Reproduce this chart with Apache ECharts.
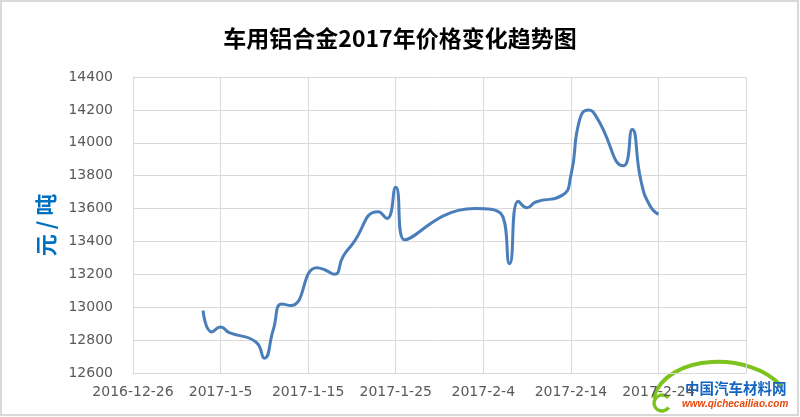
<!DOCTYPE html>
<html>
<head>
<meta charset="utf-8">
<script src="https://cdn.jsdelivr.net/npm/echarts@6/dist/echarts.min.js"></script>
<style>html,body{margin:0;padding:0;background:#fff}#c{width:800px;height:417px}</style>
</head>
<body>
<div id="c"></div>
<script>
var titleText = '车用铝合金2017年价格变化趋势图';
var yName = '元 / 吨';
var axisStart = '2016-12-26';
var axisEnd = '2017-03-06';
var dates = ['2017-01-03','2017-01-04','2017-01-05','2017-01-06','2017-01-09','2017-01-10','2017-01-11','2017-01-12','2017-01-13','2017-01-16','2017-01-17','2017-01-18','2017-01-19','2017-01-20','2017-01-23','2017-01-24','2017-01-25','2017-01-26','2017-02-03','2017-02-06','2017-02-07','2017-02-08','2017-02-09','2017-02-10','2017-02-13','2017-02-14','2017-02-15','2017-02-16','2017-02-17','2017-02-20','2017-02-21','2017-02-22','2017-02-23','2017-02-24'];
var prices = [12980,12850,12880,12845,12790,12690,12860,13020,13010,13240,13225,13200,13310,13380,13580,13540,13730,13410,13600,13570,13265,13645,13605,13640,13680,13800,14140,14200,14150,13860,14080,13770,13620,13565];

function toUTC(s){var p=s.split('-');return Date.UTC(+p[0],+p[1]-1,+p[2]);}
var DAY = 86400000;
var base = toUTC(axisStart);
function dayOf(s){return Math.round((toUTC(s)-base)/DAY);}
function labelOf(d){var t=new Date(base+d*DAY);return t.getUTCFullYear()+'-'+(t.getUTCMonth()+1)+'-'+t.getUTCDate();}
var maxDay = dayOf(axisEnd);
var seriesData = dates.map(function(d,i){return [dayOf(d), prices[i]];});

var chart = echarts.init(document.getElementById('c'), null, {renderer:'canvas'});
chart.setOption({
  animation:false,
  backgroundColor:'#ffffff',
  title:{text:titleText,left:'center',top:22,textStyle:{fontFamily:'Noto Sans CJK SC',fontWeight:'bold',fontSize:23,color:'#000'}},
  grid:{left:133,right:54,top:77,bottom:44},
  xAxis:{type:'value',min:0,max:maxDay,interval:10,
    axisLine:{show:true,lineStyle:{color:'#d9d9d9',width:1}},
    axisTick:{show:false},
    splitLine:{show:true,lineStyle:{color:'#d9d9d9',width:1}},
    axisLabel:{margin:12,color:'#595959',fontFamily:'DejaVu Sans',fontSize:14,
      formatter:function(v){return v>=maxDay?'':labelOf(v);}}
  },
  yAxis:{type:'value',min:12600,max:14400,interval:200,
    name:yName,nameLocation:'middle',nameRotate:90,nameGap:76,
    nameTextStyle:{color:'#0070C0',fontFamily:'Noto Sans CJK SC',fontWeight:'bold',fontSize:22},
    axisLine:{show:true,lineStyle:{color:'#d9d9d9',width:1}},
    axisTick:{show:false},
    splitLine:{show:true,lineStyle:{color:'#d9d9d9',width:1}},
    axisLabel:{margin:20,color:'#595959',fontFamily:'DejaVu Sans',fontSize:14,
      formatter:function(v){return String(v);}}
  },
  series:[{type:'line',data:seriesData,smooth:0.55,showSymbol:false,
    lineStyle:{color:'#4A7EBB',width:3},itemStyle:{color:'#4A7EBB'}}],
  graphic:[
    {type:'rect',shape:{x:1,y:1,width:797,height:414},style:{fill:'none',stroke:'#d9d9d9',lineWidth:2},silent:true},
    {type:'bezierCurve',shape:{x1:653,y1:398,x2:781,y2:386,cpx1:668,cpy1:352,cpx2:752,cpy2:352},style:{stroke:'#7DC21E',lineWidth:4,fill:'none'},silent:true},
    {type:'arc',shape:{cx:662,cy:403,r:8,startAngle:0.6,endAngle:5.6},style:{stroke:'#7DC21E',lineWidth:3.5,fill:'none'},silent:true},
    {type:'text',left:685,top:381,style:{text:'中国汽车材料网',fill:'#1565C0',font:'bold 14.5px "Noto Sans CJK SC"'},silent:true},
    {type:'text',left:682,top:399,style:{text:'www.qichecailiao.com',fill:'#E8480C',font:'italic bold 10px "Liberation Sans"'},silent:true}
  ]
});
</script>
</body>
</html>
